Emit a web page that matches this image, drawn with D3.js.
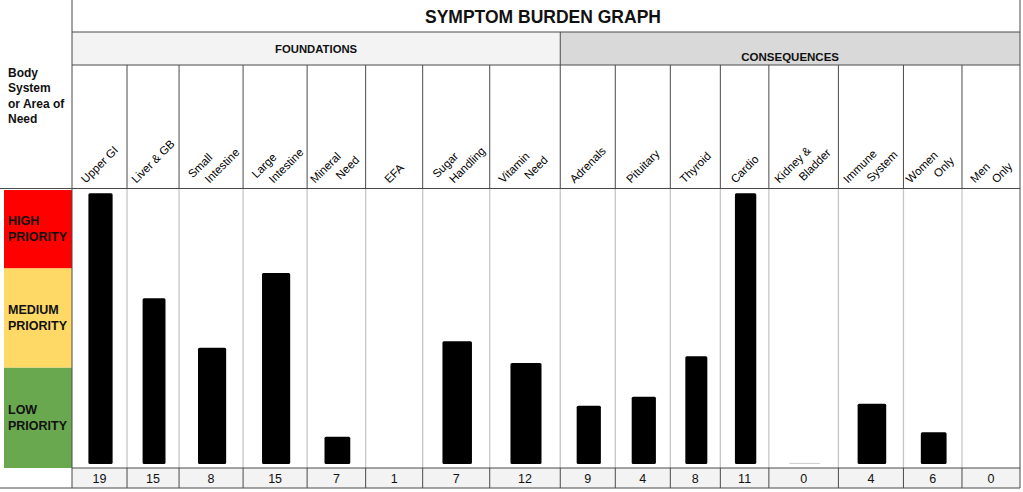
<!DOCTYPE html>
<html>
<head>
<meta charset="utf-8">
<script src="https://cdn.jsdelivr.net/npm/d3@7"></script>
<style>
  html, body { margin: 0; padding: 0; background: #fff; }
  svg { display: block; }
  text { font-family: "Liberation Sans", Arial, sans-serif; }
</style>
</head>
<body>
<svg id="chart" width="1023" height="492"></svg>
<script>
// ---------------- DATA ----------------
const title = "SYMPTOM BURDEN GRAPH";
const groups = ["FOUNDATIONS", "CONSEQUENCES"];
const groupSizes = [8, 8];
const categories = [
  "Upper GI", "Liver & GB", "Small\nIntestine", "Large\nIntestine",
  "Mineral\nNeed", "EFA", "Sugar\nHandling", "Vitamin\nNeed",
  "Adrenals", "Pituitary", "Thyroid", "Cardio",
  "Kidney &\nBladder", "Immune\nSystem", "Women\nOnly", "Men\nOnly"
];
// bar height as % of the priority scale
const burdenPct = [98.8, 60.5, 42.4, 69.7, 9.9, 0, 44.8, 36.9, 21.3, 24.5, 39.3, 98.8, 0.4, 22, 11.6, 0];
// symptom counts shown in the bottom row
const counts = [19, 15, 8, 15, 7, 1, 7, 12, 9, 4, 8, 11, 0, 4, 6, 0];
const priorityBands = ["LOW\nPRIORITY", "MEDIUM\nPRIORITY", "HIGH\nPRIORITY"];
const priorityBreaks = [0, 36.5, 72.6, 101];
const rowHeader = ["Body", "System", "or Area of", "Need"];

// ---------------- LAYOUT (relative column widths) ----------------
const colWeights = [55, 52, 64, 64, 58.5, 57, 67, 70.5, 55, 55, 50, 48.5, 69.5, 65, 58.5, 58];
const L = 72, R = 1020;
const ySub = 32, yLab = 65, yPlotTop = 188.5, yNum = 468, yBottom = 488;

const svg = d3.select("#chart");

const cum = [0];
colWeights.forEach(w => cum.push(cum[cum.length - 1] + w));
const xLin = d3.scaleLinear().domain([0, cum[cum.length - 1]]).range([L, R]);
const colX0 = categories.map((c, i) => xLin(cum[i]));
const colX1 = categories.map((c, i) => xLin(cum[i + 1]));
const colC = categories.map((c, i) => (colX0[i] + colX1[i]) / 2);

const y = d3.scaleLinear().domain([0, 100]).range([464, 190]);
const yBand = d3.scaleLinear().domain([0, 101]).range([468, 190]);

// ---------- priority bands ----------
const bandColors = ["#6aa84f", "#ffd966", "#ff0000"];
priorityBands.forEach((b, i) => {
  const y0 = yBand(priorityBreaks[i + 1]), y1 = yBand(priorityBreaks[i]);
  svg.append("rect").attr("x", 4).attr("y", y0).attr("width", L - 4).attr("height", y1 - y0)
    .attr("fill", bandColors[i]);
  const lines = b.split("\n");
  const cy = (y0 + y1) / 2;
  lines.forEach((ln, k) => {
    svg.append("text").attr("x", 8).attr("y", cy + (k - (lines.length - 1) / 2) * 15.5)
      .attr("dominant-baseline", "central")
      .attr("font-size", 12.5).attr("font-weight", "bold").attr("fill", "#111")
      .text(ln);
  });
});

// ---------- header backgrounds ----------
const groupBg = ["#f3f3f3", "#d9d9d9"];
let gi = 0;
groups.forEach((g, i) => {
  const x0 = colX0[gi], x1 = colX1[gi + groupSizes[i] - 1];
  svg.append("rect").attr("x", x0).attr("y", ySub).attr("width", x1 - x0).attr("height", yLab - ySub)
    .attr("fill", groupBg[i]);
  gi += groupSizes[i];
});

// number row background
svg.append("rect").attr("x", L).attr("y", yNum).attr("width", R - L).attr("height", yBottom - yNum)
  .attr("fill", "#f3f3f3");

// ---------- grid lines ----------
const dark = "#4a4a4a";
categories.forEach((c, i) => {
  if (i === 0) return;
  svg.append("line").attr("x1", colX0[i]).attr("x2", colX0[i]).attr("y1", yPlotTop).attr("y2", yNum)
    .attr("stroke", "#c6c6c6").attr("stroke-width", 1.3);
});
categories.forEach((c, i) => {
  if (i === 0) return;
  [[yLab, yPlotTop], [yNum, yBottom]].forEach(([a, b]) => {
    svg.append("line").attr("x1", colX0[i]).attr("x2", colX0[i]).attr("y1", a).attr("y2", b)
      .attr("stroke", dark).attr("stroke-width", 1);
  });
});
svg.append("line").attr("x1", colX0[groupSizes[0]]).attr("x2", colX0[groupSizes[0]])
  .attr("y1", ySub).attr("y2", yLab).attr("stroke", dark);

[[L, R, ySub], [L, R, yLab], [0, R, yPlotTop], [L, R, yNum], [0, R, yBottom]].forEach(([a, b, yy]) => {
  svg.append("line").attr("x1", a).attr("x2", b).attr("y1", yy).attr("y2", yy)
    .attr("stroke", dark).attr("stroke-width", 1);
});
[L, R].forEach(xx => {
  svg.append("line").attr("x1", xx).attr("x2", xx).attr("y1", 0).attr("y2", yBottom)
    .attr("stroke", dark).attr("stroke-width", 1);
});

// ---------- bars ----------
svg.append("g").selectAll("rect").data(burdenPct).join("rect")
  .attr("x", (d, i) => colC[i] + 1 - (colX1[i] - colX0[i]) * 0.22)
  .attr("width", (d, i) => (colX1[i] - colX0[i]) * 0.44)
  .attr("y", d => y(d))
  .attr("height", d => y(0) - y(d))
  .attr("rx", d => d >= 1 ? 1.5 : 0)
  .attr("fill", d => d >= 1 ? "#000" : "#d0d0d0");

// ---------- numbers ----------
svg.append("g").selectAll("text").data(counts).join("text")
  .attr("x", (d, i) => colC[i]).attr("y", (yNum + yBottom) / 2 + 1)
  .attr("text-anchor", "middle").attr("dominant-baseline", "central")
  .attr("font-size", 12.5).attr("fill", "#111")
  .text(d => d);

// ---------- title & group headers ----------
svg.append("text").attr("x", (L + R) / 2 - 3).attr("y", 22.7)
  .attr("text-anchor", "middle").attr("font-family", "Inter, Lato, sans-serif")
  .attr("font-weight", 600).attr("font-size", 17.5).attr("fill", "#111").text(title);

gi = 0;
groups.forEach((g, i) => {
  const x0 = colX0[gi], x1 = colX1[gi + groupSizes[i] - 1];
  const t = svg.append("text").attr("x", (x0 + x1) / 2).attr("text-anchor", "middle")
    .attr("fill", "#111").text(g);
  if (i === 0) {
    t.attr("y", 53.3).attr("font-family", "Inter, Lato, sans-serif").attr("font-weight", 600).attr("font-size", 11.3);
  } else {
    t.attr("y", 60.7).attr("font-weight", "bold").attr("font-size", 11.5);
  }
  gi += groupSizes[i];
});

rowHeader.forEach((ln, k) => {
  svg.append("text").attr("x", 8).attr("y", 77 + k * 15.3)
    .attr("font-size", 12).attr("font-weight", "bold").attr("fill", "#111").text(ln);
});

// ---------- rotated category labels ----------
const lab = svg.append("g");
categories.forEach((c, i) => {
  const lines = c.split("\n");
  const texts = lines.map(ln => lab.append("text").attr("font-size", 11.5).attr("fill", "#000")
    .attr("text-anchor", "middle").attr("dominant-baseline", "central").text(ln));
  const maxW = d3.max(texts, t => t.node().getComputedTextLength());
  const cy = 185 - maxW * 0.7071 / 2 - 4;
  texts.forEach((t, k) => {
    const cx = colC[i] + (k - (lines.length - 1) / 2) * 22;
    t.attr("transform", `translate(${cx},${cy}) rotate(-45)`);
  });
});
</script>
</body>
</html>
